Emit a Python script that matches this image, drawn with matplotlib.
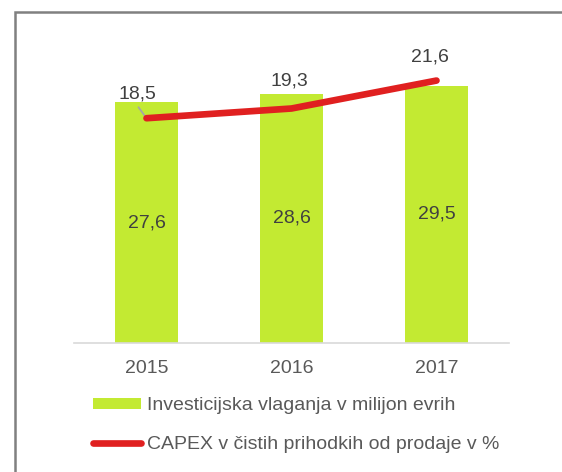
import matplotlib
matplotlib.use("Agg")
import matplotlib.pyplot as plt
from matplotlib.patches import Patch
from matplotlib.lines import Line2D

plt.rcParams['font.family'] = ['Liberation Sans', 'DejaVu Sans']

years = ["2015", "2016", "2017"]
invest = [27.6, 28.6, 29.5]
capex = [18.5, 19.3, 21.6]
invest_labels = ["27,6", "28,6", "29,5"]
capex_labels = ["18,5", "19,3", "21,6"]
legend_labels = ["Investicijska vlaganja v milijon evrih",
                 "CAPEX v čistih prihodkih od prodaje v %"]

W, H = 562, 472
fig = plt.figure(figsize=(W / 100, H / 100), dpi=100)

GREEN = "#C3EA32"
RED = "#E02020"
TXT = "#404040"
TXT2 = "#595959"

ax_l, ax_r, ax_b, ax_t = 74, 509, 343, 31
ax = fig.add_axes([ax_l / W, 1 - ax_b / H, (ax_r - ax_l) / W, (ax_b - ax_t) / H])
ax2 = ax.twinx()

x = list(range(len(years)))
ax.bar(x, invest, width=0.44, color=GREEN, zorder=2)
ax.set_xlim(-0.5, len(years) - 0.5)
ax.set_ylim(0, 312 / 8.72)
ax2.set_ylim(0, 312 / 12.15)

for xi, v, lab in zip(x, invest, invest_labels):
    ax.text(xi, v / 2, lab, ha="center", va="center", fontsize=14, color=TXT, zorder=3)

ax2.plot(x, capex, color=RED, lw=4.8, solid_capstyle="round", solid_joinstyle="round", zorder=3)

offsets = [(-9, 24), (-2, 27.5), (-6.5, 24)]
for xi, v, lab, off in zip(x, capex, capex_labels, offsets):
    ax2.annotate(lab, (xi, v), xytext=off, textcoords="offset pixels",
                 ha="center", va="center", fontsize=14, color=TXT, zorder=4)

# leader line for the first label
ax2.annotate("", xy=(x[0], capex[0]), xytext=(-8, 11), textcoords="offset pixels",
             arrowprops=dict(arrowstyle="-", color="#A6A6A6", lw=1.3,
                             shrinkA=0, shrinkB=0), zorder=2)

for a in (ax, ax2):
    for s in ("top", "right", "left"):
        a.spines[s].set_visible(False)
    a.set_yticks([])
ax2.spines["bottom"].set_visible(False)
ax.spines["bottom"].set_color("#D9D9D9")
ax.spines["bottom"].set_linewidth(1.2)
ax.set_xticks(x)
ax.set_xticklabels(years, fontsize=14, color=TXT2)
ax.tick_params(axis="x", length=0, pad=12.5)

handles = [Patch(facecolor=GREEN, edgecolor="none"),
           Line2D([0], [0], color=RED, lw=4.8, solid_capstyle="round")]
fig.legend(handles, legend_labels, loc="upper left",
           bbox_to_anchor=(93 / W, 1 - 397 / H), frameon=False,
           fontsize=14, labelcolor=TXT2, handlelength=2.47, handleheight=0.5,
           handletextpad=0.31, labelspacing=1.13, borderpad=0, borderaxespad=0)

x0, y0 = 14.7 / W, 1 - 11.7 / H
fig.add_artist(Line2D([x0, x0, 1.0], [0.0, y0, y0], transform=fig.transFigure,
                      color="#808080", lw=1.8, solid_joinstyle="miter"))

fig.savefig("out.png", dpi=100)
